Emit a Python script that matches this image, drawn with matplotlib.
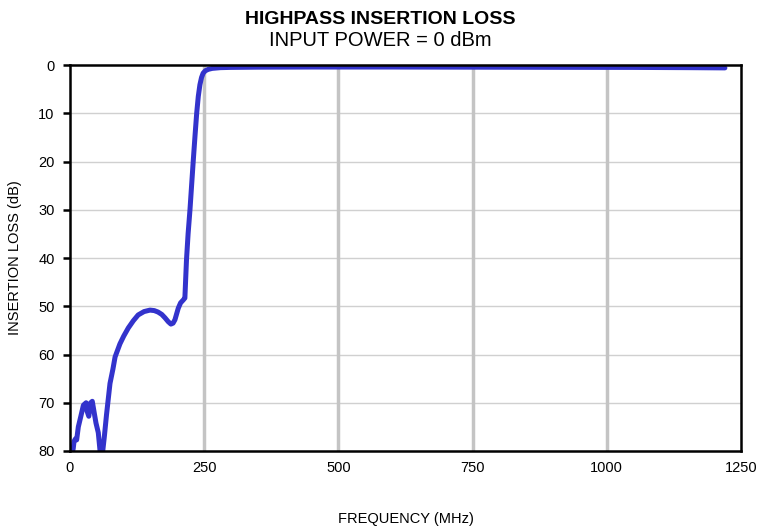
import matplotlib
matplotlib.use("Agg")
import matplotlib.pyplot as plt

plt.rcParams['font.family'] = ['Liberation Sans', 'DejaVu Sans']

# Data
freq_mhz = [5, 6, 7.5, 10, 12.4, 15.5, 20, 25, 30, 32, 35, 38.5, 41.5, 45, 48.4, 52.7, 56,
            61, 64, 68, 74.5, 80, 84, 93, 100, 108.6, 118, 127, 138, 149, 157, 164, 171,
            177, 183, 188, 192, 195.5, 201.7, 206, 211, 214, 217, 220, 223.5, 226.5,
            229.7, 233, 236, 239, 242, 245, 248, 252, 257.5, 265, 280, 298, 350, 450,
            600, 750, 900, 1050, 1150, 1220]
loss_db = [80, 79.5, 78, 77.5, 77.7, 75, 72.9, 70.5, 70, 71.8, 72.8, 70, 69.7, 72, 74.2,
           76.2, 80, 80, 77, 72.5, 66, 63, 60.5, 57.8, 56.2, 54.5, 53, 51.8, 51.1, 50.8,
           50.9, 51.2, 51.7, 52.4, 53.2, 53.7, 53.5, 52.8, 50.4, 49.3, 48.7, 48.3, 40.4,
           35, 30, 25, 19.7, 14.5, 10, 6.5, 4.1, 2.6, 1.7, 1.2, 0.9, 0.7, 0.55, 0.5, 0.45,
           0.42, 0.42, 0.45, 0.48, 0.5, 0.55, 0.6]

x_ticks = [0, 250, 500, 750, 1000, 1250]
y_ticks = [0, 10, 20, 30, 40, 50, 60, 70, 80]

title = "HIGHPASS INSERTION LOSS"
subtitle = "INPUT POWER = 0 dBm"
x_label = "FREQUENCY (MHz)"
y_label = "INSERTION LOSS (dB)"

fig = plt.figure(figsize=(7.59, 5.29), dpi=100)
ax = fig.add_axes([70/759, 1-451/529, (741-70)/759, (451-65)/529])

ax.set_xlim(0, 1250)
ax.set_ylim(80, 0)
ax.set_xticks(x_ticks)
ax.set_yticks(y_ticks)

for v in y_ticks[1:-1]:
    ax.axhline(v, color='#d0d0d0', lw=1.0, zorder=1)
for v in x_ticks[1:-1]:
    ax.axvline(v, color='#c4c4c4', lw=2.5, zorder=1)

ax.plot(freq_mhz, loss_db, color='#3333cc', lw=3.6, solid_capstyle='round',
        solid_joinstyle='round', zorder=3, clip_on=True)

for s in ax.spines.values():
    s.set_linewidth(1.8)
    s.set_color('black')
    s.set_zorder(4)

ax.tick_params(axis='y', direction='out', length=5, width=1.8, labelsize=10.5, pad=6)
ax.tick_params(axis='x', length=0, labelsize=10.5, pad=7)

ax.set_xlabel(x_label, fontsize=10.5, labelpad=27)
ax.set_ylabel(y_label, fontsize=10.5, labelpad=12)

fig.text(380/759, 1-19/529, title, ha='center', va='center', fontsize=14, fontweight='bold')
fig.text(380/759, 1-41/529, subtitle, ha='center', va='center', fontsize=14.5)

fig.savefig("out.png", dpi=100)
